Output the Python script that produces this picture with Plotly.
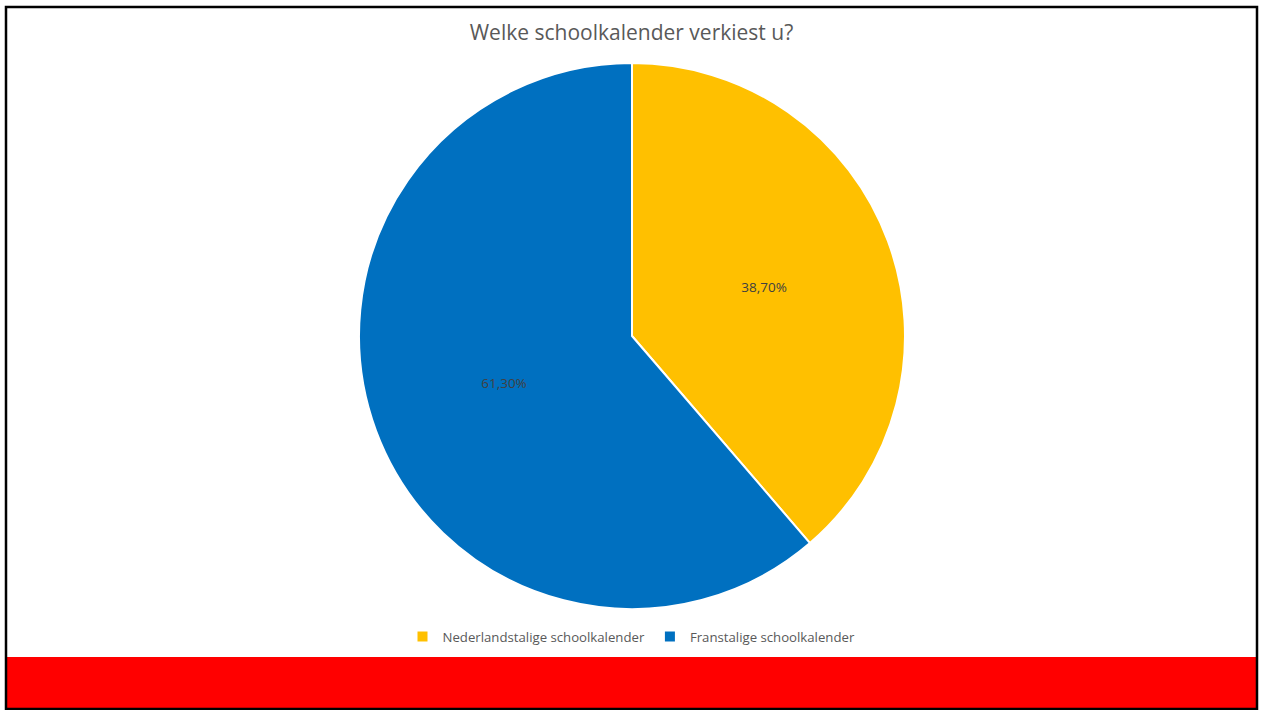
import plotly.graph_objects as go

W, H = 1263, 710

categories = ["Nederlandstalige schoolkalender", "Franstalige schoolkalender"]
values = [38.70, 61.30]
colors = ["#FFC000", "#0070C0"]
labels_text = ["38,70%", "61,30%"]
title_text = "Welke schoolkalender verkiest u?"


def px_x(px):
    return px / W


def px_y(py):
    return 1 - py / H


fig = go.Figure(
    go.Pie(
        labels=categories,
        values=values,
        text=labels_text,
        texttemplate="%{text}",
        textposition="inside",
        insidetextorientation="horizontal",
        sort=False,
        direction="clockwise",
        rotation=0,
        marker=dict(colors=colors, line=dict(color="white", width=2)),
        textfont=dict(family="Open Sans", size=13.5, color="#404040"),
        domain=dict(x=[px_x(359), px_x(905)], y=[px_y(609), px_y(63)]),
        hoverinfo="label+percent",
    )
)

fig.update_layout(
    width=W,
    height=H,
    margin=dict(l=0, r=0, t=0, b=0),
    paper_bgcolor="white",
    plot_bgcolor="white",
    title=dict(
        text=title_text,
        x=0.5,
        xanchor="center",
        y=px_y(33),
        yanchor="middle",
        font=dict(family="Open Sans", size=21, color="#595959"),
    ),
    legend=dict(
        orientation="h",
        x=0.5,
        xanchor="center",
        y=px_y(637),
        yanchor="middle",
        font=dict(family="Open Sans", size=13.2, color="#595959"),
        itemwidth=30,
    ),
    showlegend=True,
    shapes=[
        dict(
            type="rect", xref="paper", yref="paper",
            x0=px_x(7), x1=px_x(1257), y0=px_y(708), y1=px_y(657),
            fillcolor="#FF0000", line=dict(width=0), layer="above",
        ),
        dict(
            type="rect", xref="paper", yref="paper",
            x0=px_x(6), x1=px_x(1257), y0=px_y(709), y1=px_y(7),
            fillcolor="rgba(0,0,0,0)", line=dict(color="black", width=2.5), layer="above",
        ),
    ],
)

fig.write_html("out.html")
